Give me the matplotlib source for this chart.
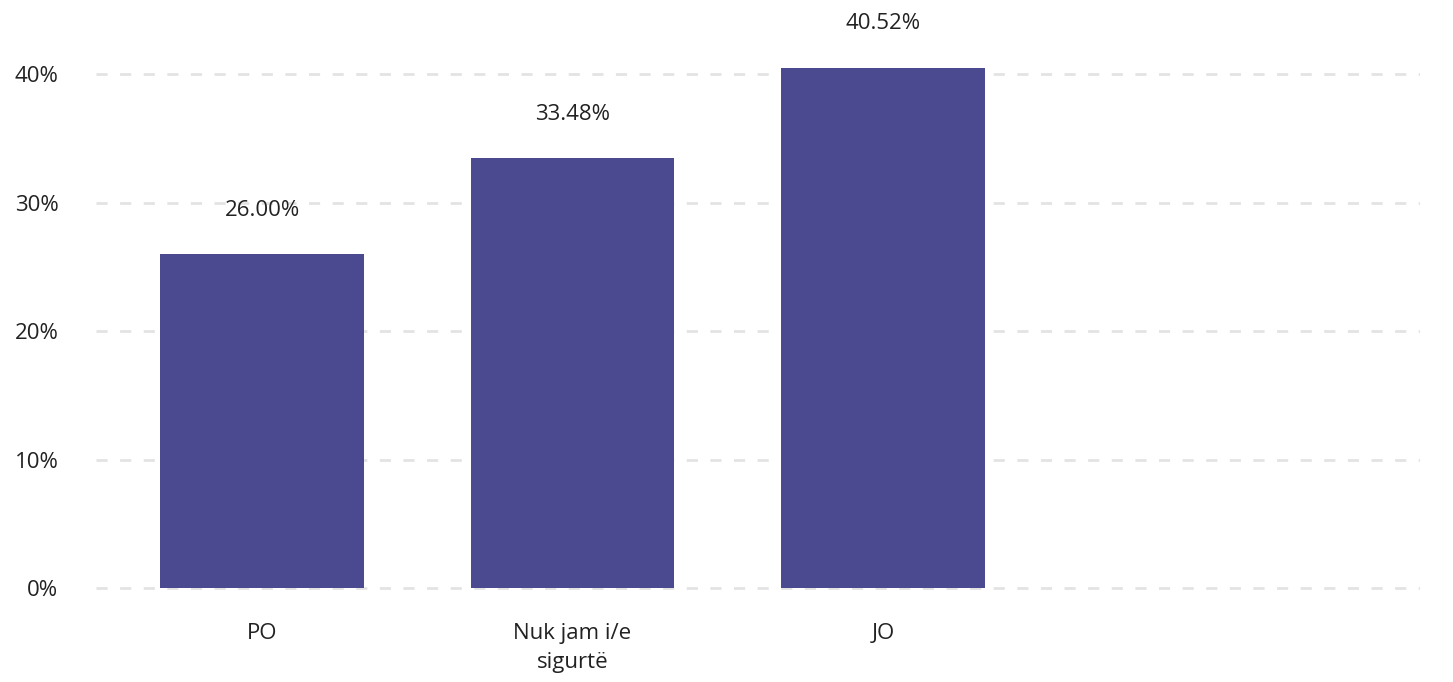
import matplotlib.pyplot as plt
from matplotlib.ticker import FuncFormatter

# chart data
categories = ['PO', 'Nuk jam i/e\nsigurtë', 'JO']
values = [26.00, 33.48, 40.52]
yticks = [0, 10, 20, 30, 40]

barColor = '#4b4990'
gridColor = '#e3e3e3'
textColor = '#222222'

plt.rcParams['font.family'] = ['Open Sans', 'DejaVu Sans']

fig = plt.figure(figsize=(14.53, 6.82), dpi=100)
ax = fig.add_axes([96 / 1453, (682 - 590) / 682, (1420 - 96) / 1453, 590 / 682])

x = range(len(categories))
bars = ax.bar(x, values, width=0.657, color=barColor, zorder=3)

# value labels above each bar
for rect, v in zip(bars, values):
    ax.annotate('{:.2f}%'.format(v), (rect.get_x() + rect.get_width() / 2, rect.get_height()),
                xytext=(0, 24), textcoords='offset points', ha='center', va='bottom',
                fontsize=16, color=textColor)

ax.set_xlim(-0.535, 3.73)
ax.set_ylim(-0.15, 45.8)
ax.set_yticks(yticks)
ax.yaxis.set_major_formatter(FuncFormatter(lambda v, p: '{:.0f}%'.format(v)))
ax.set_xticks(list(x))
ax.set_xticklabels(categories, linespacing=1.45)

ax.grid(axis='y', color=gridColor, linestyle=(0, (4, 4.5)), linewidth=2, zorder=0)
ax.grid(axis='x', visible=False)
for s in ax.spines.values():
    s.set_visible(False)
ax.tick_params(axis='both', length=0, labelsize=16, colors=textColor)
ax.tick_params(axis='y', pad=27)
ax.tick_params(axis='x', pad=24)
for lbl in ax.get_xticklabels():
    lbl.set_verticalalignment('top')

fig.savefig('out.png', dpi=100, facecolor='white')
